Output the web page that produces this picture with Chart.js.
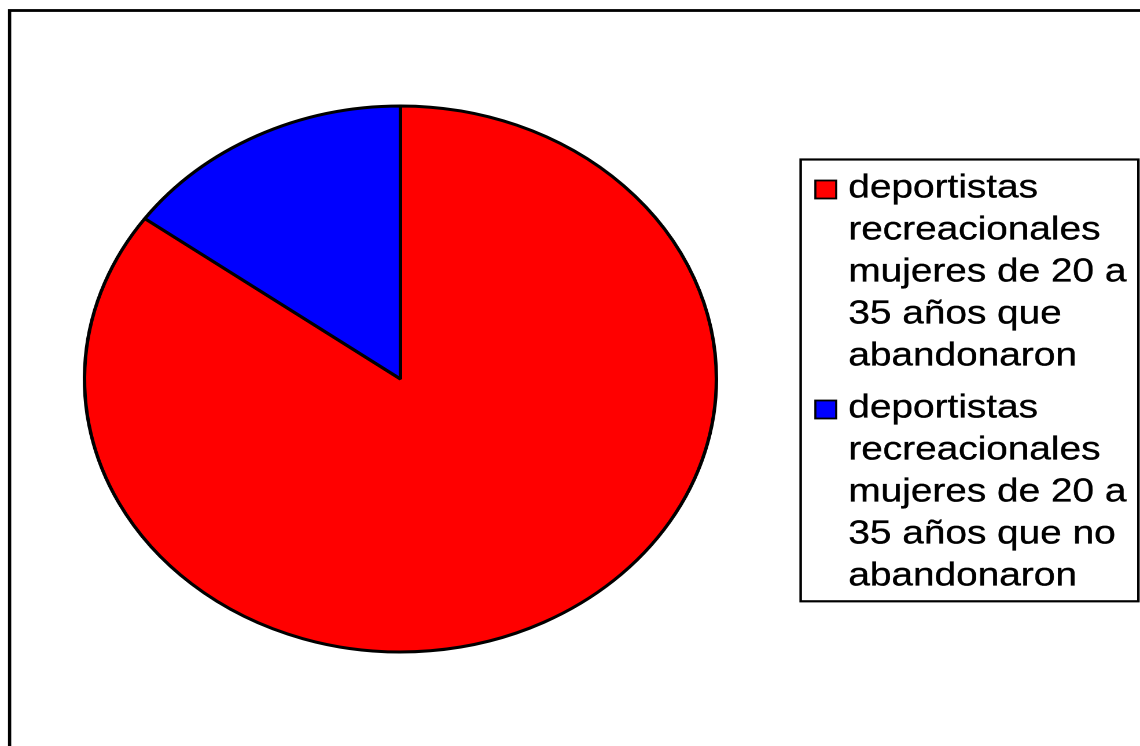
<!DOCTYPE html>
<html>
<head>
<meta charset="utf-8">
<script src="https://cdn.jsdelivr.net/npm/chart.js@4"></script>
<style>
  html, body { margin: 0; padding: 0; background: #ffffff; overflow: hidden; width: 1140px; height: 746px; }
  #wrap { position: absolute; left: 0; top: 0; width: 985px; height: 746px; transform: scaleX(1.15736); transform-origin: 0 0; }
</style>
</head>
<body>
<div id="wrap"><canvas id="c"></canvas></div>
<script>
const categories = [
  ["deportistas", "recreacionales", "mujeres de 20 a", "35 años que", "abandonaron"],
  ["deportistas", "recreacionales", "mujeres de 20 a", "35 años que no", "abandonaron"]
];
const values = [85, 15];
const colors = ["#ff0000", "#0000ff"];

const framePlugin = {
  id: 'frameAndLegend',
  afterDraw(chart) {
    const ctx = chart.ctx;
    ctx.save();
    // outer frame (clipped at right and bottom)
    ctx.strokeStyle = '#000';
    ctx.lineWidth = 2.8;
    ctx.strokeRect(8.3, 10.5, 2000, 2000);
    // legend box
    ctx.lineWidth = 2.2;
    ctx.fillStyle = '#fff';
    ctx.fillRect(691.8, 159.5, 983.6 - 691.8, 601.3 - 159.5);
    ctx.strokeRect(691.8, 159.5, 983.6 - 691.8, 601.3 - 159.5);
    // legend items
    const lineH = 42;
    const starts = [197.5, 417.5];
    ctx.font = '33.5px "Liberation Sans", Arial, sans-serif';
    ctx.textBaseline = 'alphabetic';
    ctx.textAlign = 'left';
    chart.data.labels.forEach((lines, i) => {
      const base = starts[i];
      ctx.fillStyle = chart.data.datasets[0].backgroundColor[i];
      ctx.lineWidth = 1.8;
      ctx.fillRect(704.5, base - 17, 18, 18);
      ctx.strokeRect(704.5, base - 17, 18, 18);
      ctx.fillStyle = '#000';
      ctx.strokeStyle = '#000';
      ctx.lineWidth = 0.35;
      lines.forEach((t, j) => {
        ctx.fillText(t, 733, base + j * lineH);
        ctx.strokeText(t, 733, base + j * lineH);
      });
    });
    ctx.restore();
  }
};

new Chart(document.getElementById('c'), {
  type: 'pie',
  data: {
    labels: categories,
    datasets: [{
      data: values,
      backgroundColor: colors,
      borderColor: '#000000',
      borderWidth: 3,
      hoverOffset: 0
    }]
  },
  options: {
    responsive: true,
    maintainAspectRatio: false,
    animation: false,
    devicePixelRatio: 2,
    radius: 273,
    layout: { padding: { left: 50, right: 343, top: 60, bottom: 48 } },
    plugins: {
      legend: { display: false },
      tooltip: { enabled: false },
      title: { display: false }
    }
  },
  plugins: [framePlugin]
});
</script>
</body>
</html>
